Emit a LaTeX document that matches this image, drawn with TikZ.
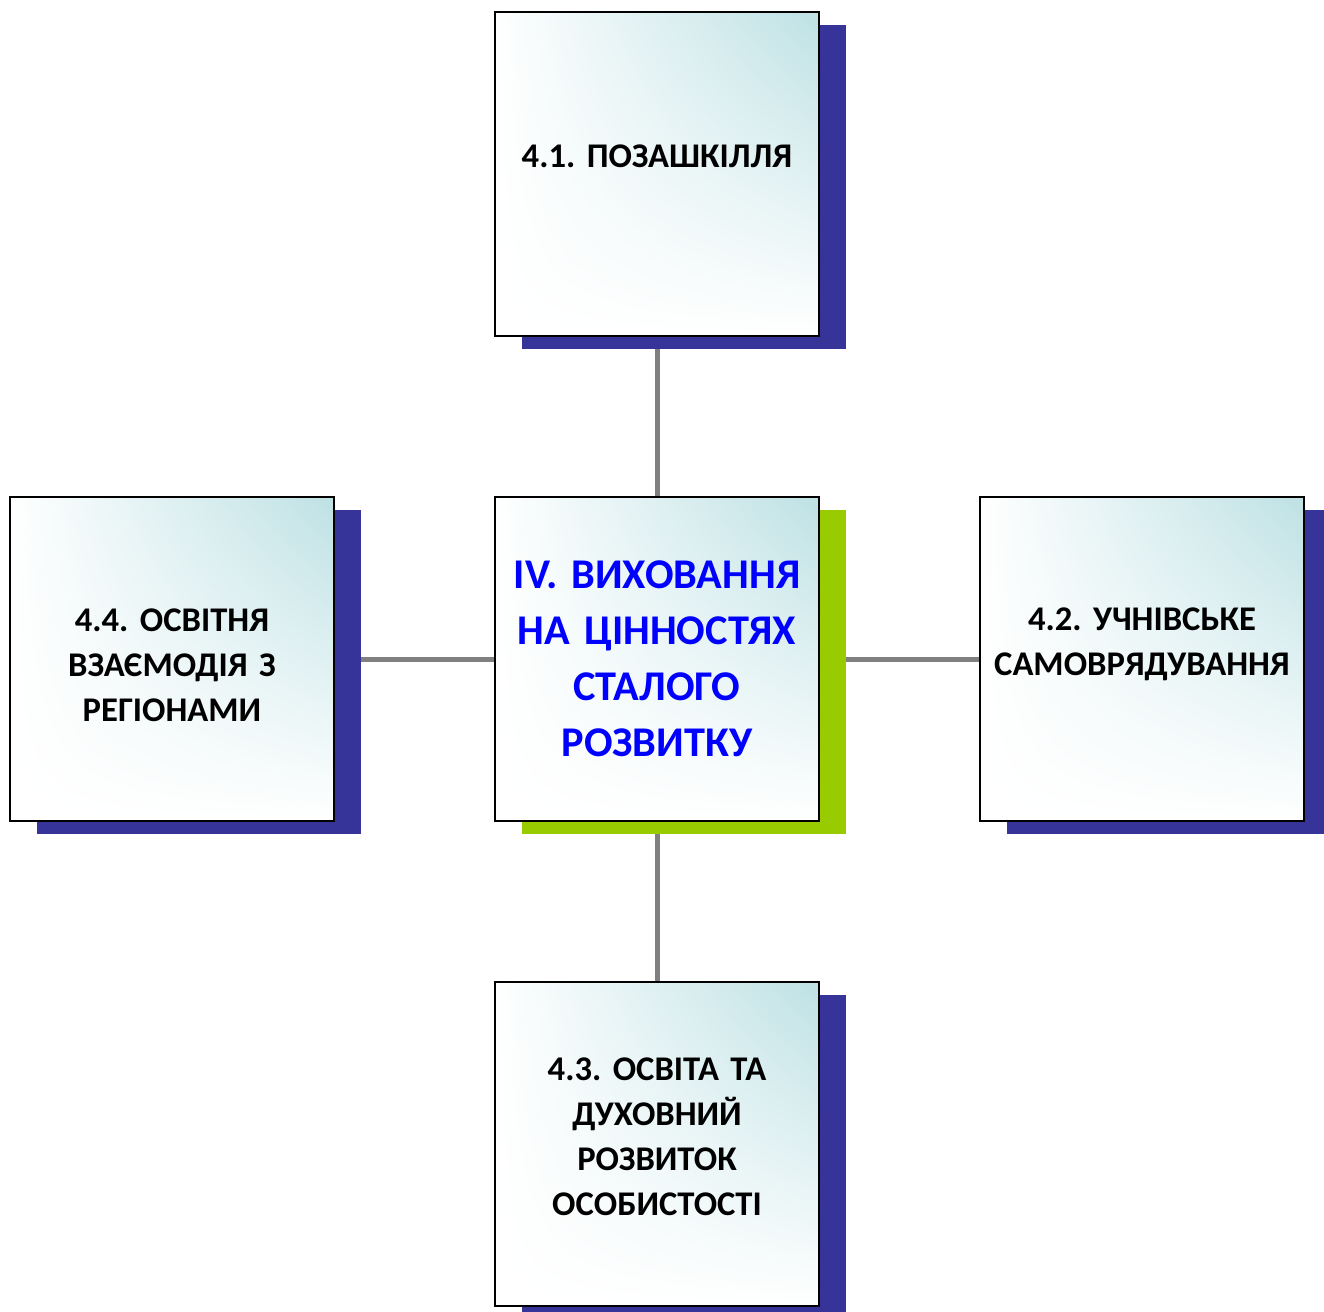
\documentclass[tikz,border=0pt]{standalone}
\usepackage{fontspec}
\setmainfont{Carlito}
\frenchspacing
\usetikzlibrary{shadows,shadings,backgrounds}
\definecolor{boxteal}{RGB}{190,225,228}
\definecolor{shadowblue}{RGB}{55,52,153}
\definecolor{shadowlime}{RGB}{153,204,0}
\definecolor{linkgray}{RGB}{128,128,128}
\tikzset{
  card/.style={draw=black, line width=1.2pt, minimum width=6.48cm, minimum height=6.48cm,
    inner sep=0pt, upper right=boxteal, upper left=white, lower left=white, lower right=white},
  topic/.style={card, general shadow={fill=shadowblue, shadow xshift=0.54cm, shadow yshift=-0.26cm}},
  core/.style={card, general shadow={fill=shadowlime, shadow xshift=0.54cm, shadow yshift=-0.26cm}},
  caption/.style={text width=6.2cm, align=center, inner sep=0pt,
    font=\bfseries\fontsize{19.7}{25.6}\selectfont},
  headline/.style={caption, text=blue, font=\bfseries\fontsize{24.1}{31.9}\selectfont},
  link/.style={draw=linkgray, line width=0.1cm}
}
\begin{document}
\begin{tikzpicture}[x=0.02cm, y=-0.02cm]
\useasboundingbox (0,0) rectangle (1324,1311);
\node[core, label={[headline]center:IV. ВИХОВАННЯ\\НА ЦІННОСТЯХ\\СТАЛОГО\\РОЗВИТКУ}] (core) at (657,659){};
\node[topic, label={[caption, yshift=0.36cm]center:4.1. ПОЗАШКІЛЛЯ}] (t1) at (657,174){};
\node[topic, label={[caption, yshift=0.29cm]center:4.2. УЧНІВСЬКЕ\\САМОВРЯДУВАННЯ}] (t2) at (1142,659){};
\node[topic, label={[caption, yshift=0.14cm]center:4.3. ОСВІТА ТА\\ДУХОВНИЙ\\РОЗВИТОК\\ОСОБИСТОСТІ}] (t3) at (657,1144){};
\node[topic, label={[caption, yshift=-0.12cm]center:4.4. ОСВІТНЯ\\ВЗАЄМОДІЯ З\\РЕГІОНАМИ}] (t4) at (172,659){};
\begin{scope}[on background layer]
\draw[link] (core) -- (t1);
\draw[link] (core) -- (t2);
\draw[link] (core) -- (t3);
\draw[link] (core) -- (t4);
\end{scope}
\end{tikzpicture}
\end{document}
